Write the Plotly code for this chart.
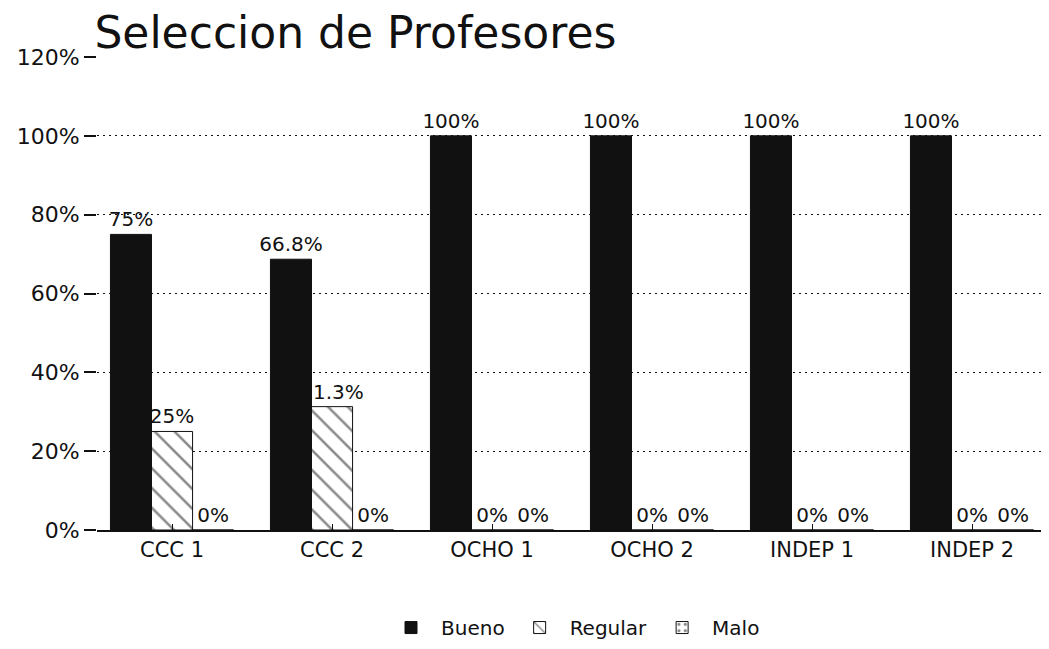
import plotly.graph_objects as go

BLACK = "#111111"
FONT = "DejaVu Sans, sans-serif"

categories = ["CCC 1", "CCC 2", "OCHO 1", "OCHO 2", "INDEP 1", "INDEP 2"]
bueno = [75, 68.7, 100, 100, 100, 100]
regular = [25, 31.3, 0, 0, 0, 0]
malo = [0, 0, 0, 0, 0, 0]
bueno_text = ["75%", "66.8%", "100%", "100%", "100%", "100%"]
regular_text = ["25%", "31.3%", "0%", "0%", "0%", "0%"]
malo_text = ["0%", "0%", "0%", "0%", "0%", "0%"]
y_ticks = [0, 20, 40, 60, 80, 100, 120]
y_tick_text = ["0%", "20%", "40%", "60%", "80%", "100%", "120%"]

fig = go.Figure()
fig.add_trace(go.Bar(
    x=categories, y=bueno, name="Bueno", text=bueno_text,
    marker=dict(color=BLACK, line=dict(color=BLACK, width=1)),
))
fig.add_trace(go.Bar(
    x=categories, y=regular, name="Regular", text=regular_text,
    marker=dict(color="white", line=dict(color=BLACK, width=1),
                pattern=dict(shape="\\", fgcolor=BLACK, bgcolor="white", size=14, solidity=0.18)),
))
fig.add_trace(go.Bar(
    x=categories, y=malo, name="Malo", text=malo_text,
    marker=dict(color="white", line=dict(color=BLACK, width=1),
                pattern=dict(shape=".", fgcolor=BLACK, bgcolor="white", size=8, solidity=0.2)),
))
fig.update_traces(textposition="outside", cliponaxis=False, constraintext="none",
                  textfont=dict(size=20, color=BLACK, family=FONT))

# page has an 8px body margin, so the figure is 1041x641
fig.update_layout(
    width=1041, height=641,
    margin=dict(l=89, r=0, t=49, b=119),
    paper_bgcolor="white", plot_bgcolor="white",
    font=dict(family=FONT, size=20, color=BLACK),
    title=dict(text="Seleccion de Profesores", font=dict(size=44, color=BLACK),
               x=0.083, xanchor="left", y=0.962, yanchor="middle"),
    barmode="group", bargap=0.23, bargroupgap=0,
    legend=dict(orientation="h", x=0.5, xanchor="center", y=-0.165, yanchor="top",
                font=dict(size=20), itemwidth=50, traceorder="normal"),
    showlegend=True,
)
fig.update_xaxes(range=[-0.469, 5.481], showline=True, linecolor=BLACK, linewidth=2,
                 ticks="inside", ticklen=6, tickcolor=BLACK, showgrid=False,
                 tickfont=dict(size=21), automargin=False)
fig.update_yaxes(range=[0, 120], tickvals=y_ticks, ticktext=y_tick_text,
                 showline=False, ticks="outside", ticklen=12, tickcolor=BLACK, tickwidth=2,
                 showgrid=True, gridcolor=BLACK, griddash="2px,4px", gridwidth=1,
                 zeroline=False, tickfont=dict(size=22), automargin=False)

fig.write_html("out.html")
